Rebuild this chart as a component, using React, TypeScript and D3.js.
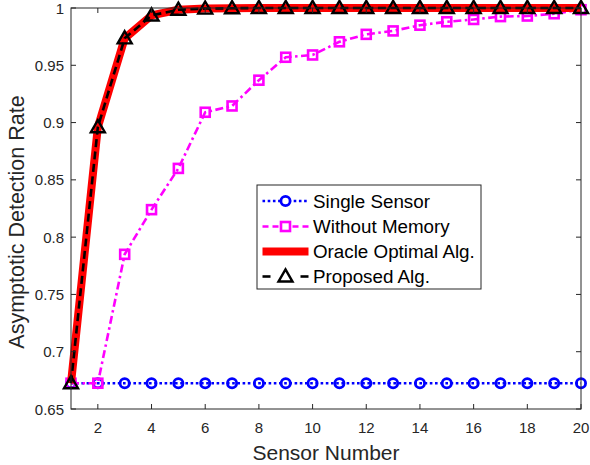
import React, { useEffect, useRef } from 'react'
import * as d3 from 'd3'

const sensors = d3.range(1, 21)
const singleSensor = sensors.map(() => 0.6725)
const withoutMemory = [
  0.6725, 0.6725, 0.785, 0.824, 0.86, 0.909, 0.9145, 0.937, 0.957, 0.959,
  0.9705, 0.977, 0.98, 0.985, 0.988, 0.99, 0.9925, 0.993, 0.995, 0.9985,
]
const oracle = [
  0.6725, 0.896, 0.9735, 0.9935, 0.9985, 0.9995, 0.9998, 1, 1, 1,
  1, 1, 1, 1, 1, 1, 1, 1, 1, 1,
]
const proposed = [
  0.6725, 0.896, 0.9735, 0.9935, 0.9985, 0.9995, 0.9998, 1, 1, 1,
  1, 1, 1, 1, 1, 1, 1, 1, 1, 1,
]
const xTicks = [2, 4, 6, 8, 10, 12, 14, 16, 18, 20]
const yTicks = [0.65, 0.7, 0.75, 0.8, 0.85, 0.9, 0.95, 1]
const legendLabels = ['Single Sensor', 'Without Memory', 'Oracle Optimal Alg.', 'Proposed Alg.']

export default function App() {
  const ref = useRef<SVGSVGElement>(null)

  useEffect(() => {
    const svg = d3.select(ref.current)
    svg.selectAll('*').remove()
    const left = 71, right = 581, top = 8, bottom = 409
    const axisColor = '#262626'
    const font = 'Liberation Sans, Arial, Helvetica, sans-serif'

    const x = d3.scaleLinear().domain([1, 20]).range([left, right])
    const y = d3.scaleLinear().domain([0.65, 1]).range([bottom, top])

    const plot = svg.append('g')
    plot.append('rect').attr('x', left).attr('y', top).attr('width', right - left)
      .attr('height', bottom - top).attr('fill', 'white')

    const line = d3.line<number>().x((_, i) => x(sensors[i])).y((d) => y(d))

    // single sensor
    plot.append('path').attr('d', line(singleSensor)).attr('fill', 'none')
      .attr('stroke', '#0000ff').attr('stroke-width', 2.6).attr('stroke-dasharray', '2.6,2.6')
    plot.selectAll('circle.single').data(singleSensor).enter().append('circle')
      .attr('class', 'single').attr('cx', (_, i) => x(sensors[i])).attr('cy', (d) => y(d))
      .attr('r', 4.6).attr('fill', 'none').attr('stroke', '#0000ff').attr('stroke-width', 2.8)

    // without memory
    plot.append('path').attr('d', line(withoutMemory)).attr('fill', 'none')
      .attr('stroke', '#ff00ff').attr('stroke-width', 2.6).attr('stroke-dasharray', '8,3.5,2.5,3.5')
    plot.selectAll('rect.wm').data(withoutMemory).enter().append('rect')
      .attr('class', 'wm').attr('x', (_, i) => x(sensors[i]) - 4.5).attr('y', (d) => y(d) - 4.5)
      .attr('width', 9).attr('height', 9).attr('fill', 'none')
      .attr('stroke', '#ff00ff').attr('stroke-width', 2.6)

    // oracle
    plot.append('path').attr('d', line(oracle)).attr('fill', 'none')
      .attr('stroke', '#ff0000').attr('stroke-width', 8).attr('stroke-linejoin', 'round')

    // proposed
    plot.append('path').attr('d', line(proposed)).attr('fill', 'none')
      .attr('stroke', 'black').attr('stroke-width', 2.6).attr('stroke-dasharray', '8,4.5')
    const tri = d3.symbol().type(d3.symbolTriangle).size(85)
    plot.selectAll('path.tri').data(proposed).enter().append('path')
      .attr('class', 'tri').attr('d', tri())
      .attr('transform', (d, i) => `translate(${x(sensors[i])},${y(d) + 1})`)
      .attr('fill', 'none').attr('stroke', 'black').attr('stroke-width', 2.4)

    // axes box
    const ax = svg.append('g')
    ax.append('rect').attr('x', left).attr('y', top).attr('width', right - left)
      .attr('height', bottom - top).attr('fill', 'none').attr('stroke', axisColor).attr('stroke-width', 1)
    xTicks.forEach((t) => {
      ax.append('line').attr('x1', x(t)).attr('x2', x(t)).attr('y1', bottom).attr('y2', bottom - 5)
        .attr('stroke', axisColor)
      ax.append('line').attr('x1', x(t)).attr('x2', x(t)).attr('y1', top).attr('y2', top + 5)
        .attr('stroke', axisColor)
      ax.append('text').attr('x', x(t)).attr('y', bottom + 24).attr('text-anchor', 'middle')
        .attr('font-family', font).attr('font-size', 15).attr('fill', axisColor).text(t)
    })
    yTicks.forEach((t) => {
      ax.append('line').attr('x1', left).attr('x2', left + 5).attr('y1', y(t)).attr('y2', y(t))
        .attr('stroke', axisColor)
      ax.append('line').attr('x1', right).attr('x2', right - 5).attr('y1', y(t)).attr('y2', y(t))
        .attr('stroke', axisColor)
      ax.append('text').attr('x', left - 7).attr('y', y(t) + 5.5).attr('text-anchor', 'end')
        .attr('font-family', font).attr('font-size', 15).attr('fill', axisColor).text(d3.format('')(t))
    })
    ax.append('text').attr('x', 326).attr('y', 460).attr('text-anchor', 'middle')
      .attr('font-family', font).attr('font-size', 21).attr('fill', axisColor).text('Sensor Number')
    ax.append('text').attr('transform', `translate(24,222) rotate(-90)`)
      .attr('text-anchor', 'middle').attr('font-family', font).attr('font-size', 21.5)
      .attr('fill', axisColor).text('Asymptotic Detection Rate')

    // legend
    const lg = svg.append('g')
    lg.append('rect').attr('x', 257).attr('y', 185).attr('width', 224).attr('height', 104)
      .attr('fill', 'white').attr('stroke', axisColor).attr('stroke-width', 1)
    const rowY = [201, 226.5, 251.5, 276.5]
    const x0 = 262.5, x1 = 308.5, xm = (x0 + x1) / 2
    lg.append('line').attr('x1', x0).attr('x2', x1).attr('y1', rowY[0]).attr('y2', rowY[0])
      .attr('stroke', '#0000ff').attr('stroke-width', 2.6).attr('stroke-dasharray', '2.6,2.6')
    lg.append('circle').attr('cx', xm).attr('cy', rowY[0]).attr('r', 4.6).attr('fill', 'white')
      .attr('stroke', '#0000ff').attr('stroke-width', 2.8)
    lg.append('line').attr('x1', x0).attr('x2', x1).attr('y1', rowY[1]).attr('y2', rowY[1])
      .attr('stroke', '#ff00ff').attr('stroke-width', 2.6).attr('stroke-dasharray', '6,4')
    lg.append('rect').attr('x', xm - 4.5).attr('y', rowY[1] - 4.5).attr('width', 9).attr('height', 9)
      .attr('fill', 'white').attr('stroke', '#ff00ff').attr('stroke-width', 2.6)
    lg.append('line').attr('x1', x0).attr('x2', x1).attr('y1', rowY[2]).attr('y2', rowY[2])
      .attr('stroke', '#ff0000').attr('stroke-width', 8)
    lg.append('line').attr('x1', x0).attr('x2', x0 + 8).attr('y1', rowY[3]).attr('y2', rowY[3])
      .attr('stroke', 'black').attr('stroke-width', 2.6)
    lg.append('line').attr('x1', x1 - 8).attr('x2', x1).attr('y1', rowY[3]).attr('y2', rowY[3])
      .attr('stroke', 'black').attr('stroke-width', 2.6)
    lg.append('path').attr('d', tri()).attr('transform', `translate(${xm},${rowY[3] + 1})`)
      .attr('fill', 'none').attr('stroke', 'black').attr('stroke-width', 2.4)
    legendLabels.forEach((l, i) => {
      lg.append('text').attr('x', 313).attr('y', rowY[i] + 6.5).attr('font-family', font)
        .attr('font-size', 18.8).attr('fill', 'black').text(l)
    })
  }, [])

  return (
    <svg ref={ref} width={590} height={465}
      style={{ position: 'absolute', left: 0, top: 0, background: 'white' }} />
  )
}
